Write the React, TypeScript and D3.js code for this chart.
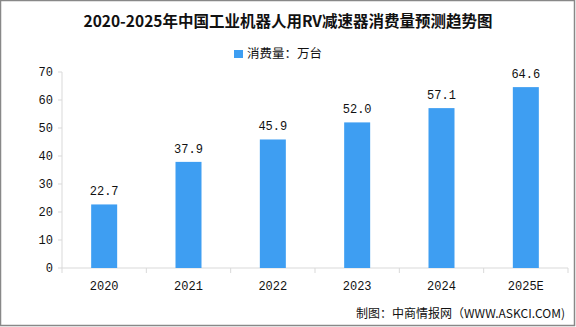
import React from "react";
import * as d3 from "d3";

const categories = ["2020", "2021", "2022", "2023", "2024", "2025E"];
const values = [22.7, 37.9, 45.9, 52.0, 57.1, 64.6];
const yTicks = [0, 10, 20, 30, 40, 50, 60, 70];
const title = "2020-2025年中国工业机器人用RV减速器消费量预测趋势图";
const legendLabel = "消费量：万台";
const source = "制图：中商情报网（WWW.ASKCI.COM)";

const W = 576;
const H = 327;
const left = 62;
const right = 568;
const top = 72;
const bottom = 268;
const color = "#3e9ef2";
const font = "'Noto Sans CJK SC', 'Liberation Sans', sans-serif";
const numFont = "'Liberation Mono', 'DejaVu Sans Mono', monospace";

export default function App() {
  const x = d3.scaleBand<string>().domain(categories).range([left, right]).paddingInner(0).paddingOuter(0);
  const y = d3.scaleLinear().domain([0, 70]).range([bottom, top]);
  const barW = 26;
  return (
    <svg width={W} height={H} style={{ position: "absolute", left: 0, top: 0 }}>
      <rect x={0.5} y={0.5} width={W - 2} height={H - 2} fill="#fff" stroke="#888" strokeWidth={1.5} />
      <text x={288} y={27} textAnchor="middle" fontFamily={font} fontWeight="bold" fontSize={15.5} fill="#111">
        {title}
      </text>
      <rect x={234} y={50} width={9} height={8} fill={color} />
      <text x={247} y={58} fontFamily={font} fontSize={12.5} fill="#111">
        {legendLabel}
      </text>
      <line x1={left} x2={left} y1={top} y2={bottom} stroke="#d9d9d9" />
      <line x1={left} x2={right} y1={bottom} y2={bottom} stroke="#d9d9d9" />
      {yTicks.map((t) => (
        <g key={t}>
          <line x1={left - 4} x2={left} y1={y(t)} y2={y(t)} stroke="#d9d9d9" />
          <text x={53} y={y(t) + 4} textAnchor="end" fontFamily={numFont} fontSize={12} fill="#111">
            {t}
          </text>
        </g>
      ))}
      {categories.map((c, i) => (
        <line key={"t" + c} x1={x(c)!} x2={x(c)!} y1={bottom} y2={bottom + 5} stroke="#d9d9d9" />
      ))}
      <line x1={right} x2={right} y1={bottom} y2={bottom + 5} stroke="#d9d9d9" />
      {categories.map((c, i) => {
        const cx = x(c)! + x.bandwidth() / 2;
        return (
          <g key={c}>
            <rect x={cx - barW / 2} y={y(values[i])} width={barW} height={bottom - y(values[i])} fill={color} />
            <text x={cx} y={y(values[i]) - 9} textAnchor="middle" fontFamily={numFont} fontSize={12} fill="#111">
              {values[i].toFixed(1)}
            </text>
            <text x={cx} y={290} textAnchor="middle" fontFamily={numFont} fontSize={12} fill="#111">
              {c}
            </text>
          </g>
        );
      })}
      <text x={565} y={318} textAnchor="end" fontFamily={font} fontSize={12} fill="#111">
        {source}
      </text>
    </svg>
  );
}
